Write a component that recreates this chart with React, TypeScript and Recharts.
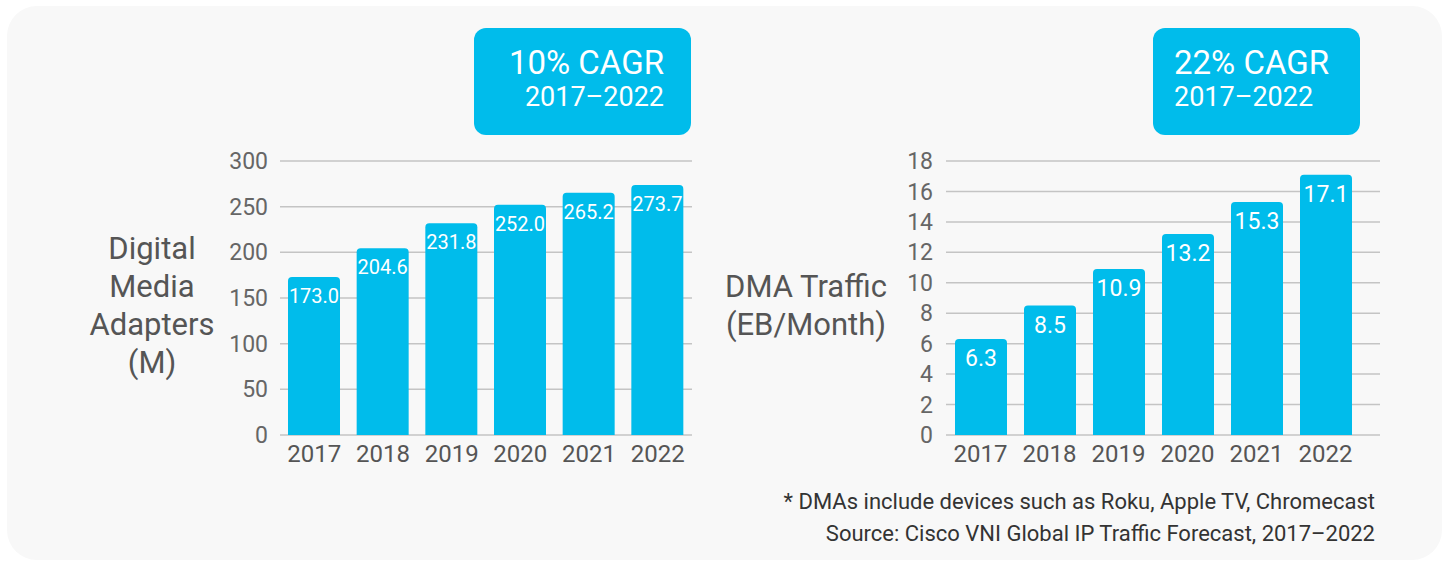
import { BarChart, Bar, XAxis, YAxis, CartesianGrid, LabelList } from 'recharts'

const years = ['2017', '2018', '2019', '2020', '2021', '2022']
const dmaDevices = [173.0, 204.6, 231.8, 252.0, 265.2, 273.7]
const dmaTraffic = [6.3, 8.5, 10.9, 13.2, 15.3, 17.1]
const deviceTicks = [0, 50, 100, 150, 200, 250, 300]
const trafficTicks = [0, 2, 4, 6, 8, 10, 12, 14, 16, 18]

const BLUE = '#00bceb'
const FONT = 'Roboto, "Open Sans", sans-serif'

const deviceData = years.map((year, i) => ({ year, value: dmaDevices[i] }))
const trafficData = years.map((year, i) => ({ year, value: dmaTraffic[i] }))

function Panel({
  data,
  ticks,
  max,
  left,
  width,
  yWidth,
  tickMargin,
  marginRight,
  padRight,
  labelSize,
  labelOffset,
}: {
  data: { year: string; value: number }[]
  ticks: number[]
  max: number
  left: number
  width: number
  yWidth: number
  tickMargin: number
  marginRight: number
  padRight: number
  labelSize: number
  labelOffset: number
}) {
  return (
    <div style={{ position: 'absolute', left, top: 140 }}>
      <BarChart
        width={width}
        height={340}
        data={data}
        margin={{ top: 21, right: marginRight, left: 0, bottom: 0 }}
      >
        <CartesianGrid vertical={false} stroke="#c4c4c4" strokeWidth={1.5} />
        <XAxis
          dataKey="year"
          axisLine={false}
          tickLine={false}
          height={45}
          tickMargin={4}
          padding={{ left: 0, right: padRight }}
          tick={{ fill: '#555', fontSize: 24, fontFamily: FONT }}
        />
        <YAxis
          domain={[0, max]}
          ticks={ticks}
          interval={0}
          axisLine={false}
          tickLine={false}
          width={yWidth}
          tickMargin={tickMargin}
          tick={{ fill: '#666', fontSize: 23, fontFamily: FONT }}
        />
        <Bar dataKey="value" fill={BLUE} barSize={52} radius={[4, 4, 0, 0]} isAnimationActive={false}>
          <LabelList
            dataKey="value"
            position="insideTop"
            offset={labelOffset}
            fill="#fff"
            fontSize={labelSize}
            fontFamily={FONT}
            formatter={(v: any) => Number(v).toFixed(1)}
          />
        </Bar>
      </BarChart>
    </div>
  )
}

const labelStyle: React.CSSProperties = {
  position: 'absolute',
  color: '#555',
  fontSize: 31,
  lineHeight: '38px',
  textAlign: 'center',
  fontFamily: FONT,
  whiteSpace: 'nowrap',
}

const boxStyle: React.CSSProperties = {
  position: 'absolute',
  top: 28,
  height: 107,
  background: BLUE,
  borderRadius: 12,
  color: '#fff',
  fontFamily: FONT,
  whiteSpace: 'nowrap',
}

export default function App() {
  return (
    <div
      style={{
        position: 'absolute',
        left: 0,
        top: 0,
        width: 1450,
        height: 565,
        background: '#fff',
        fontFamily: FONT,
      }}
    >
      <div
        style={{
          position: 'absolute',
          left: 7,
          top: 6,
          width: 1435,
          height: 554,
          borderRadius: 30,
          background: '#f8f8f8',
        }}
      />

      <div style={{ ...boxStyle, left: 474, width: 217 }}>
        <div style={{ position: 'absolute', right: 27, top: 15, fontSize: 33, lineHeight: '40px' }}>10% CAGR</div>
        <div style={{ position: 'absolute', right: 27, top: 53, fontSize: 27, lineHeight: '32px' }}>2017–2022</div>
      </div>
      <div style={{ ...boxStyle, left: 1153, width: 207 }}>
        <div style={{ position: 'absolute', left: 21, top: 15, fontSize: 33, lineHeight: '40px' }}>22% CAGR</div>
        <div style={{ position: 'absolute', left: 21, top: 53, fontSize: 27, lineHeight: '32px' }}>2017–2022</div>
      </div>

      <div style={{ ...labelStyle, left: 52, width: 200, top: 230 }}>
        Digital
        <br />
        Media
        <br />
        Adapters
        <br />
        (M)
      </div>
      <div style={{ ...labelStyle, left: 696, width: 220, top: 268 }}>
        DMA Traffic
        <br />
        (EB/Month)
      </div>

      <Panel
        data={deviceData}
        ticks={deviceTicks}
        max={300}
        left={200}
        width={500}
        yWidth={80}
        tickMargin={6}
        marginRight={8}
        padRight={0}
        labelSize={20}
        labelOffset={12}
      />
      <Panel
        data={trafficData}
        ticks={trafficTicks}
        max={18}
        left={850}
        width={540}
        yWidth={96}
        tickMargin={7}
        marginRight={10}
        padRight={20}
        labelSize={23}
        labelOffset={11}
      />

      <div
        style={{
          position: 'absolute',
          right: 75,
          top: 486,
          textAlign: 'right',
          fontSize: 22,
          lineHeight: '32px',
          color: '#333',
          fontFamily: FONT,
          whiteSpace: 'nowrap',
        }}
      >
        * DMAs include devices such as Roku, Apple TV, Chromecast
        <br />
        Source: Cisco VNI Global IP Traffic Forecast, 2017–2022
      </div>
    </div>
  )
}
